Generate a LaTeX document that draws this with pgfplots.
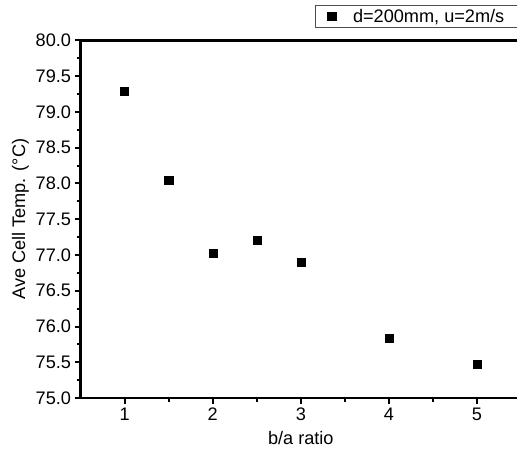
\documentclass[border=0pt]{standalone}
\usepackage{fontspec}
\setmainfont{Liberation Sans}
\usepackage{pgfplots}
\pgfplotsset{compat=1.18}
\begin{document}
\begin{tikzpicture}
\begin{axis}[
  scale only axis, width=437pt, height=355pt,
  xmin=0.5, xmax=5.5, ymin=75, ymax=80,
  axis x line*=box, axis y line*=left,
  xtick={1,2,3,4,5}, minor xtick={1.5,2.5,3.5,4.5},
  ytick={75,75.5,...,80}, minor ytick={75.25,75.75,...,79.75},
  yticklabel style={/pgf/number format/.cd,fixed,fixed zerofill,precision=1},
  /pgf/number format/assume math mode=true,
  tick align=outside, xtick pos=bottom, ytick pos=left,
  major tick length=6pt, minor tick length=4pt,
  every tick/.style={line width=2pt, black},
  axis line style={line width=2.6pt},
  ticklabel style={font=\fontsize{18}{21}\selectfont},
  label style={font=\fontsize{18}{21}\selectfont},
  xlabel={b/a ratio}, ylabel={Ave Cell Temp. (°C)},
  xlabel style={yshift=-4pt},
  ylabel style={yshift=0pt},
  legend style={at={(0.533,1.0986)}, anchor=north west, draw=black!70, line width=0.8pt,
    font=\fontsize{18}{21}\selectfont, inner xsep=12pt, inner ysep=1.5pt},
  legend cell align=left,
  clip=false,
]
\addplot[only marks, mark=square*, mark size=4pt, black] coordinates {
(1,79.29) (1.5,78.04) (2,77.02) (2.5,77.21) (3,76.90) (4,75.84) (5,75.47)
};
\addlegendentry{\hspace{15pt}d=200mm, u=2m/s}
\end{axis}
\pgfresetboundingbox
\path (-80pt,-63pt) rectangle (433pt,395pt);
\end{tikzpicture}
\end{document}
